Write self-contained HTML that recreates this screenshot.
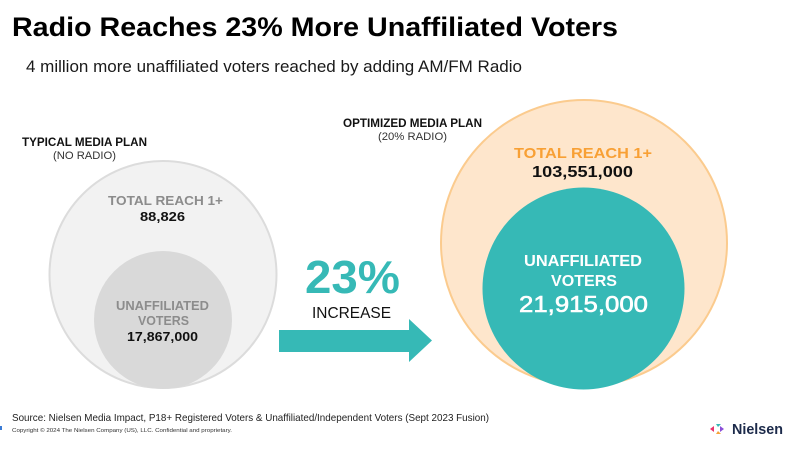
<!DOCTYPE html>
<html><head><meta charset="utf-8"><style>
html,body{margin:0;padding:0;background:#fff;}
svg{display:block;}
text{font-family:"Liberation Sans",Arial,sans-serif;}
</style></head><body>
<svg width="800" height="451" viewBox="0 0 800 451" xmlns="http://www.w3.org/2000/svg">
<rect width="800" height="451" fill="#fff"/>
<text x="12" y="36" font-size="27" font-weight="bold" fill="#000" textLength="606" lengthAdjust="spacingAndGlyphs">Radio Reaches 23% More Unaffiliated Voters</text>
<text x="26" y="72" font-size="16.5" fill="#1a1a1a" textLength="496" lengthAdjust="spacingAndGlyphs">4 million more unaffiliated voters reached by adding AM/FM Radio</text>

<text x="22" y="146" font-size="11.5" font-weight="bold" fill="#111" textLength="125" lengthAdjust="spacingAndGlyphs">TYPICAL MEDIA PLAN</text>
<text x="53" y="159" font-size="11" fill="#333" textLength="63" lengthAdjust="spacingAndGlyphs">(NO RADIO)</text>

<text x="343" y="127" font-size="11.5" font-weight="bold" fill="#111" textLength="139" lengthAdjust="spacingAndGlyphs">OPTIMIZED MEDIA PLAN</text>
<text x="378" y="140" font-size="11" fill="#333" textLength="69" lengthAdjust="spacingAndGlyphs">(20% RADIO)</text>

<!-- left circles -->
<circle cx="163" cy="274.5" r="113.5" fill="#f2f2f2" stroke="#dcdcdc" stroke-width="2"/>
<circle cx="163" cy="320" r="69" fill="#d9d9d9"/>
<text x="108" y="205" font-size="13" font-weight="bold" fill="#8c8c8c" textLength="115" lengthAdjust="spacingAndGlyphs">TOTAL REACH 1+</text>
<text x="140" y="221" font-size="13" font-weight="bold" fill="#111" textLength="45" lengthAdjust="spacingAndGlyphs">88,826</text>
<text x="116" y="310" font-size="13" font-weight="bold" fill="#8c8c8c" textLength="93" lengthAdjust="spacingAndGlyphs">UNAFFILIATED</text>
<text x="138" y="325" font-size="13" font-weight="bold" fill="#8c8c8c" textLength="51" lengthAdjust="spacingAndGlyphs">VOTERS</text>
<text x="127" y="341" font-size="13" font-weight="bold" fill="#111" textLength="71" lengthAdjust="spacingAndGlyphs">17,867,000</text>

<!-- middle -->
<text x="305" y="293" font-size="46" font-weight="bold" fill="#36b9b6" textLength="95" lengthAdjust="spacingAndGlyphs">23%</text>
<text x="312" y="318" font-size="16" fill="#111" textLength="79" lengthAdjust="spacingAndGlyphs">INCREASE</text>
<polygon points="279,330 409,330 409,319 432,340.5 409,362 409,352 279,352" fill="#36b9b6"/>

<!-- right circles -->
<circle cx="584" cy="243" r="143" fill="#fee6cc" stroke="#fbcb8e" stroke-width="2"/>
<circle cx="583.5" cy="288.5" r="101" fill="#36b9b6"/>
<text x="514" y="158" font-size="15" font-weight="bold" fill="#f8a035" textLength="138" lengthAdjust="spacingAndGlyphs">TOTAL REACH 1+</text>
<text x="532" y="177" font-size="16" font-weight="bold" fill="#111" textLength="101" lengthAdjust="spacingAndGlyphs">103,551,000</text>
<text x="524" y="266" font-size="16" font-weight="bold" fill="#fff" textLength="118" lengthAdjust="spacingAndGlyphs">UNAFFILIATED</text>
<text x="551" y="286" font-size="16" font-weight="bold" fill="#fff" textLength="66" lengthAdjust="spacingAndGlyphs">VOTERS</text>
<text x="519" y="312" font-size="23" fill="#fff" stroke="#fff" stroke-width="0.6" textLength="129" lengthAdjust="spacingAndGlyphs">21,915,000</text>

<!-- footer -->
<text x="12" y="421" font-size="10.5" fill="#222" textLength="477" lengthAdjust="spacingAndGlyphs">Source: Nielsen Media Impact, P18+ Registered Voters &amp; Unaffiliated/Independent Voters (Sept 2023 Fusion)</text>
<text x="12" y="432" font-size="5.5" fill="#333" textLength="220" lengthAdjust="spacingAndGlyphs">Copyright © 2024 The Nielsen Company (US), LLC. Confidential and proprietary.</text>
<rect x="0" y="426" width="2" height="4" fill="#3a7bd5"/>

<!-- nielsen logo -->
<polygon points="714,426 710,429 714,432" fill="#e8336b"/>
<polygon points="716,424 721,424 718,427" fill="#36b9b6"/>
<polygon points="716,434 721,434 718,431" fill="#f7a23a"/>
<polygon points="720,426 724,429 720,432" fill="#8a4fd8"/>
<text x="732" y="434" font-size="15" font-weight="bold" fill="#1c2a4a" textLength="51" lengthAdjust="spacingAndGlyphs">Nielsen</text>
</svg>
</body></html>
